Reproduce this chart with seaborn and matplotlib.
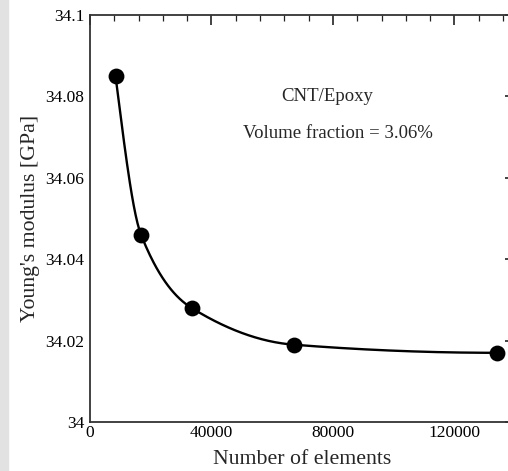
import numpy as np
import pandas as pd
import matplotlib
matplotlib.use("Agg")
import matplotlib.pyplot as plt
import seaborn as sns
from matplotlib.ticker import MultipleLocator, FixedLocator, FixedFormatter

# data
elements = [8400, 16800, 33500, 67000, 134000]
modulus = [34.085, 34.046, 34.028, 34.019, 34.017]
xticks = [0, 40000, 80000, 120000]
xticklabels = ["0", "40000", "80000", "120000"]
yticks = [34.0, 34.02, 34.04, 34.06, 34.08, 34.1]
yticklabels = ["34", "34.02", "34.04", "34.06", "34.08", "34.1"]

sns.set_theme(style="white")
plt.rcParams["font.family"] = ["Liberation Serif", "DejaVu Serif"]

df = pd.DataFrame({"n": elements, "E": modulus})

# smooth monotone cubic (Fritsch-Carlson) connector through the points
def pchip(x, y, xs):
    x = np.asarray(x, float); y = np.asarray(y, float)
    h = np.diff(x); d = np.diff(y) / h
    m = np.zeros_like(y)
    for k in range(1, len(x) - 1):
        if d[k - 1] * d[k] > 0:
            w1 = 2 * h[k] + h[k - 1]; w2 = h[k] + 2 * h[k - 1]
            m[k] = (w1 + w2) / (w1 / d[k - 1] + w2 / d[k])
    m[0] = ((2 * h[0] + h[1]) * d[0] - h[0] * d[1]) / (h[0] + h[1])
    if np.sign(m[0]) != np.sign(d[0]):
        m[0] = 0
    m[-1] = ((2 * h[-1] + h[-2]) * d[-1] - h[-1] * d[-2]) / (h[-1] + h[-2])
    if np.sign(m[-1]) != np.sign(d[-1]):
        m[-1] = 0
    out = np.empty_like(xs)
    for i, xv in enumerate(xs):
        k = min(np.searchsorted(x, xv) - 1, len(x) - 2)
        k = max(k, 0)
        t = (xv - x[k]) / h[k]
        h00 = 2 * t**3 - 3 * t**2 + 1; h10 = t**3 - 2 * t**2 + t
        h01 = -2 * t**3 + 3 * t**2; h11 = t**3 - t**2
        out[i] = h00 * y[k] + h10 * h[k] * m[k] + h01 * y[k + 1] + h11 * h[k] * m[k + 1]
    return out

xs = np.linspace(elements[0], elements[-1], 400)
curve = pd.DataFrame({"n": xs, "E": pchip(elements, modulus, xs)})

fig = plt.figure(figsize=(5.08, 4.71), dpi=100)
fig.patches.append(plt.Rectangle((0, 0), 8 / 508, 1, transform=fig.transFigure,
                                 color="#e2e2e2", zorder=0))
ax = fig.add_axes([90 / 508, 1 - 422 / 471, (515.25 - 90) / 508, (422 - 15) / 471])
ax.set_facecolor("none")

sns.lineplot(data=curve, x="n", y="E", ax=ax, color="black", linewidth=1.7, sort=True)
sns.scatterplot(data=df, x="n", y="E", ax=ax, color="black", s=130, edgecolor="black",
                linewidth=0, zorder=5)

ax.set_xlim(0, 140000)
ax.set_ylim(34.0, 34.1)
ax.xaxis.set_major_locator(FixedLocator(xticks))
ax.xaxis.set_major_formatter(FixedFormatter(xticklabels))
ax.xaxis.set_minor_locator(MultipleLocator(8000))
ax.yaxis.set_major_locator(FixedLocator(yticks))
ax.yaxis.set_major_formatter(FixedFormatter(yticklabels))
ax.yaxis.set_minor_locator(MultipleLocator(0.005))

ax.tick_params(which="both", direction="in", top=True, right=True, colors="#222222",
               labelcolor="black", labelsize=12.5)
ax.tick_params(which="major", length=7, width=1.2)
ax.tick_params(axis="x", which="major", pad=2.5)
ax.tick_params(axis="y", which="major", pad=4)
ax.tick_params(which="minor", length=4, width=0.9)
for s in ax.spines.values():
    s.set_color("#333333")
    s.set_linewidth(1.3)

ax.set_xlabel("Number of elements", fontsize=15.7, labelpad=6)
ax.set_ylabel("Young's modulus [GPa]", fontsize=15.7, labelpad=4)

ax.text(78000, 34.0799, "CNT/Epoxy", fontsize=13.5, ha="center", va="center")
ax.text(81650, 34.071, "Volume fraction = 3.06%", fontsize=13.5, ha="center", va="center")

fig.savefig("out.png", dpi=100)
